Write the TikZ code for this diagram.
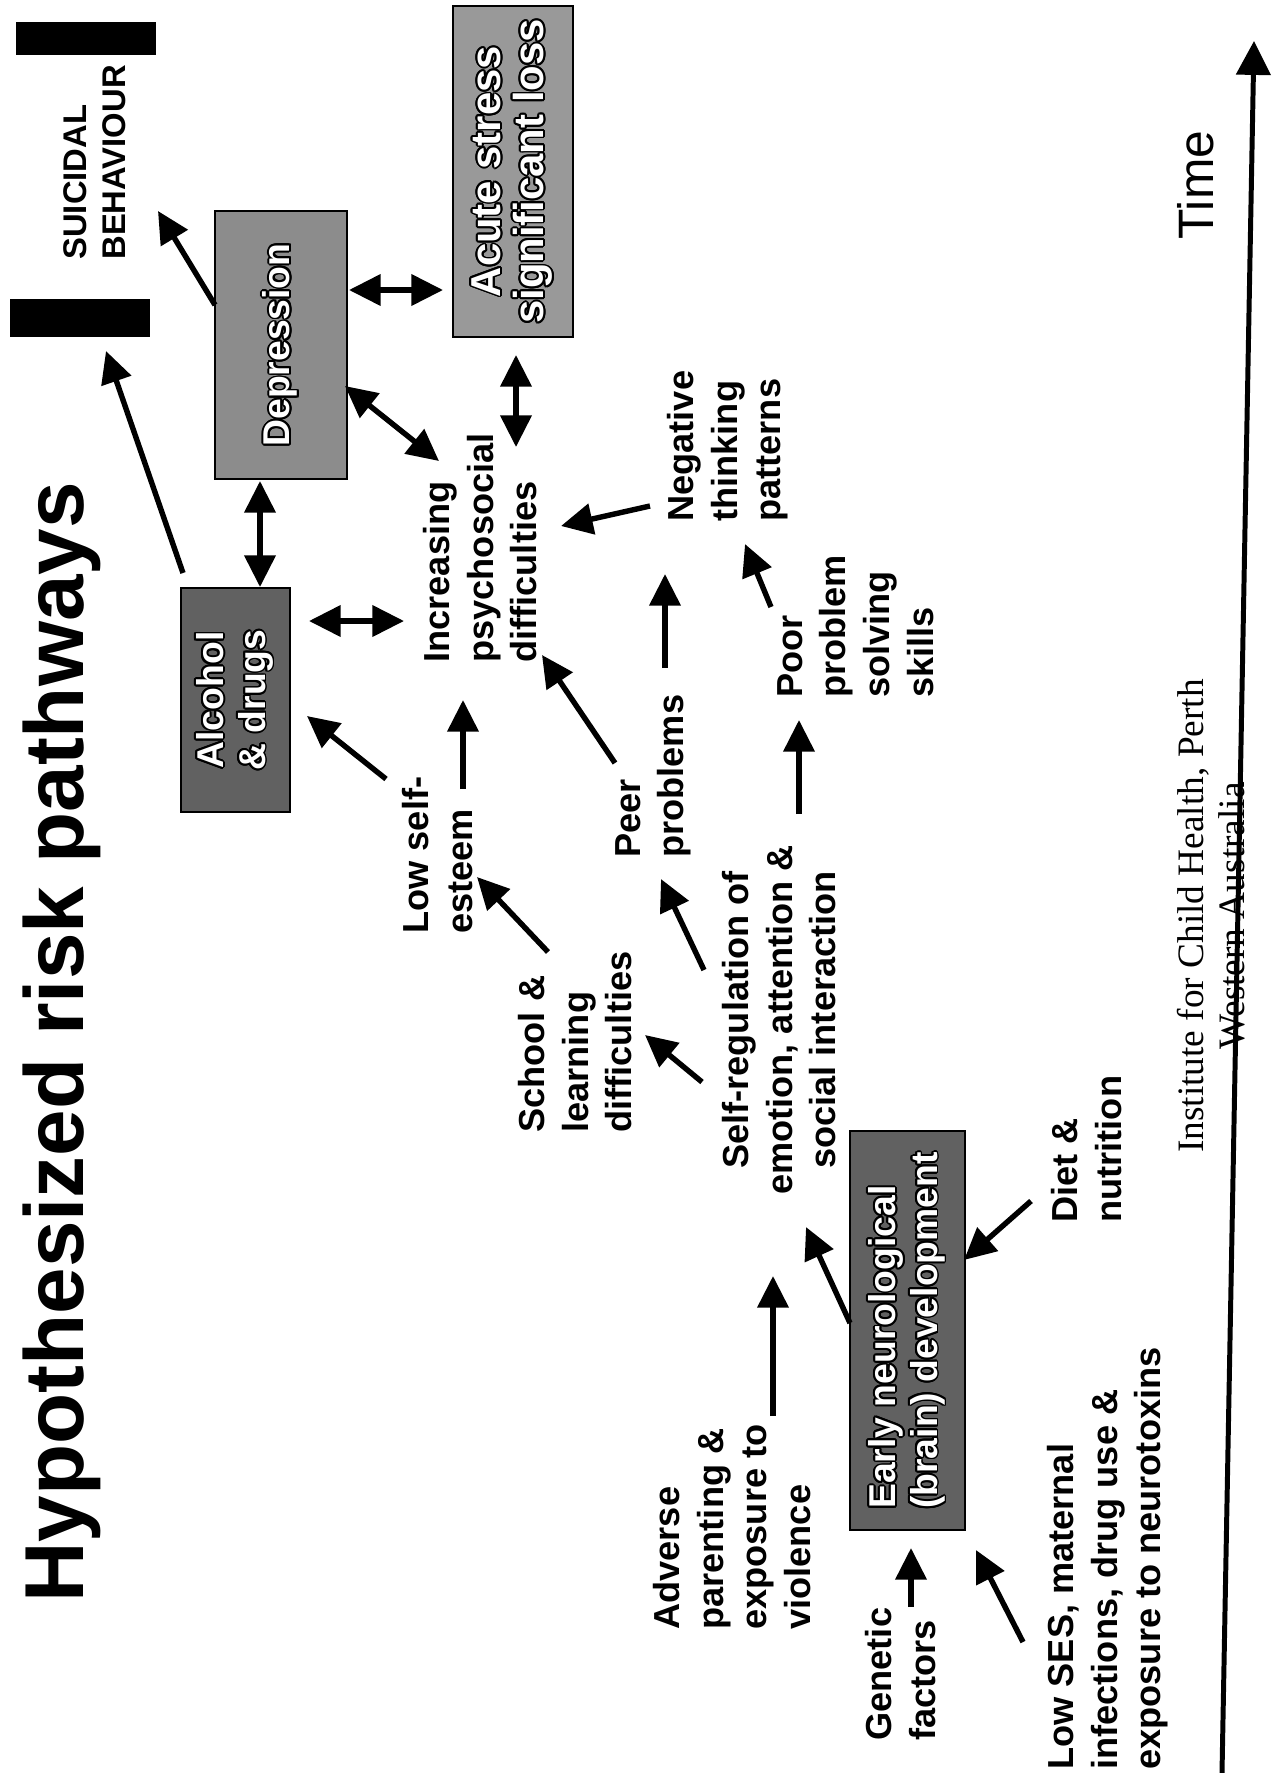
\documentclass[tikz,border=0pt]{standalone}
\usepackage{fontspec}
\setmainfont{Liberation Sans}
\newfontfamily\serifx{Liberation Serif}
\usepackage{contour}
\contourlength{0.8pt}
\usetikzlibrary{arrows.meta}
\begin{document}
\begin{tikzpicture}[x=0.4423pt, y=-0.4423pt,
  lab/.style={rotate=90, anchor=north west, align=left, inner sep=0pt,
    font=\fontsize{16}{19.3}\selectfont\bfseries},
  box/.style={rotate=90, draw=black, line width=0.9pt, inner sep=0pt, align=center,
    text=white, font=\fontsize{16.5}{18.5}\selectfont\bfseries},
  bar/.style={fill=black, draw=none, inner sep=0pt},
  arr/.style={line width=2.4pt, -{Triangle[length=14pt,width=13.5pt]}},
  darr/.style={line width=2.4pt, {Triangle[length=14pt,width=13.5pt]}-{Triangle[length=14pt,width=13.5pt]}},
  timeax/.style={line width=2.2pt, -{Triangle[length=15pt,width=15pt]}}]
\fill[white] (0,0) rectangle (1274,1773);
\useasboundingbox (0,0) rectangle (1274,1773);

% title
\node[rotate=90, anchor=base west, inner sep=0pt, font=\fontsize{37}{40}\selectfont\bfseries] (title) at (83,1603) {Hypothesized risk pathways};

% suicidal behaviour markers
\node[bar, minimum width=61.9pt, minimum height=14.6pt] (bartop) at (86,38.5) {};
\node[bar, minimum width=61.9pt, minimum height=16.8pt] (barlow) at (80,318) {};
\node[rotate=90, anchor=north west, align=left, inner sep=0pt,
  font=\fontsize{14.5}{17.2}\selectfont\bfseries] (suicidal) at (63,260) {SUICIDAL\\BEHAVIOUR};

% boxes
\node[box, fill=black!45, minimum width=118.5pt, minimum height=58.4pt] (dep) at (281,345) {\contour{black}{Depression}};
\node[box, fill=black!40, minimum width=146.4pt, minimum height=53.1pt,
  font=\fontsize{18.5}{19}\selectfont\bfseries] (acute) at (513,171.5) {\contour{black}{Acute stress}\\\contour{black}{significant loss}};
\node[box, fill=black!62, minimum width=99.1pt, minimum height=48.2pt] (alc) at (235.5,700) {\contour{black}{Alcohol}\\\contour{black}{\& drugs}};
\node[box, fill=black!62, align=left, minimum width=176.5pt, minimum height=50.9pt] (early) at (907.5,1330.5) {\contour{black}{Early neurological}\\\contour{black}{(brain) development}};

% labels
\node[lab] (incr) at (423,663) {Increasing\\psychosocial\\difficulties};
\node[lab] (lowse) at (402,934) {Low self-\\esteem};
\node[lab] (school) at (518,1133) {School \&\\learning\\difficulties};
\node[lab] (peer) at (615,858) {Peer\\problems};
\node[lab] (neg) at (667,522) {Negative\\thinking\\patterns};
\node[lab] (poor) at (777,698) {Poor\\problem\\solving\\skills};
\node[lab, anchor=north, align=center] (selfreg) at (722,1020) {Self-regulation of\\emotion, attention \&\\social interaction};
\node[lab] (adverse) at (653,1630) {Adverse\\parenting \&\\exposure to\\violence};
\node[lab] (diet) at (1051,1223) {Diet \&\\nutrition};
\node[lab] (genetic) at (865,1741) {Genetic\\factors};
\node[lab] (lowses) at (1047,1770) {Low SES, maternal\\infections, drug use \&\\exposure to neurotoxins};
\node[rotate=90, anchor=north west, inner sep=0pt, font=\fontsize{22}{26}\selectfont] (time) at (1177,240) {Time};
\node[rotate=90, anchor=north, inner sep=0pt, align=center, font=\serifx\fontsize{16.5}{18.1}\selectfont] (ich) at (1177,916) {Institute for Child Health, Perth\\Western Australia};

% connector end points
\coordinate (depL) at (215,305);   \coordinate (sbTop) at (158,211);
\coordinate (alcT) at (183,573);   \coordinate (sbLow) at (106,351);
\coordinate (depR) at (349,290);   \coordinate (acuL) at (443,290);
\coordinate (depRB) at (345,386);  \coordinate (incrA) at (439,461);
\coordinate (acuB) at (516,355);   \coordinate (incrB) at (516,447);
\coordinate (depB) at (260,481);   \coordinate (alcTT) at (260,587);
\coordinate (alcR) at (309,621);   \coordinate (incrL) at (404,621);
\coordinate (lseA) at (386,779);   \coordinate (alcRB) at (307,716);
\coordinate (lseB) at (463,789);   \coordinate (incrC) at (463,700);
\coordinate (schA) at (548,952);   \coordinate (lseT) at (477,877);
\coordinate (peerA) at (615,763);  \coordinate (incrD) at (542,655);
\coordinate (negA) at (650,506);   \coordinate (incrE) at (561,526);
\coordinate (peerB) at (665,668);  \coordinate (negB) at (665,574);
\coordinate (poorA) at (771,607);  \coordinate (negC) at (745,544);
\coordinate (srA) at (702,1082);   \coordinate (schB) at (645,1035);
\coordinate (srB) at (704,970);    \coordinate (peerC) at (661,879);
\coordinate (srC) at (799,814);    \coordinate (poorB) at (799,720);
\coordinate (advA) at (773,1416);  \coordinate (srD) at (773,1276);
\coordinate (earA) at (850,1323);  \coordinate (srE) at (806,1227);
\coordinate (dietA) at (1031,1201);\coordinate (earB) at (964,1260);
\coordinate (genA) at (911,1607);  \coordinate (earC) at (911,1548);
\coordinate (sesA) at (1023,1642); \coordinate (earD) at (976,1550);
\coordinate (timeA) at (1222,1773);\coordinate (timeB) at (1254,41);

% connectors
\draw[arr] (depL) -- (sbTop);
\draw[arr] (alcT) -- (sbLow);
\draw[darr] (depR) -- (acuL);
\draw[darr] (depRB) -- (incrA);
\draw[darr] (acuB) -- (incrB);
\draw[darr] (depB) -- (alcTT);
\draw[darr] (alcR) -- (incrL);
\draw[arr] (lseA) -- (alcRB);
\draw[arr] (lseB) -- (incrC);
\draw[arr] (schA) -- (lseT);
\draw[arr] (peerA) -- (incrD);
\draw[arr] (negA) -- (incrE);
\draw[arr] (peerB) -- (negB);
\draw[arr] (poorA) -- (negC);
\draw[arr] (srA) -- (schB);
\draw[arr] (srB) -- (peerC);
\draw[arr] (srC) -- (poorB);
\draw[arr] (advA) -- (srD);
\draw[arr] (earA) -- (srE);
\draw[arr] (dietA) -- (earB);
\draw[arr] (genA) -- (earC);
\draw[arr] (sesA) -- (earD);
\draw[timeax] (timeA) -- (timeB);
\end{tikzpicture}
\end{document}
